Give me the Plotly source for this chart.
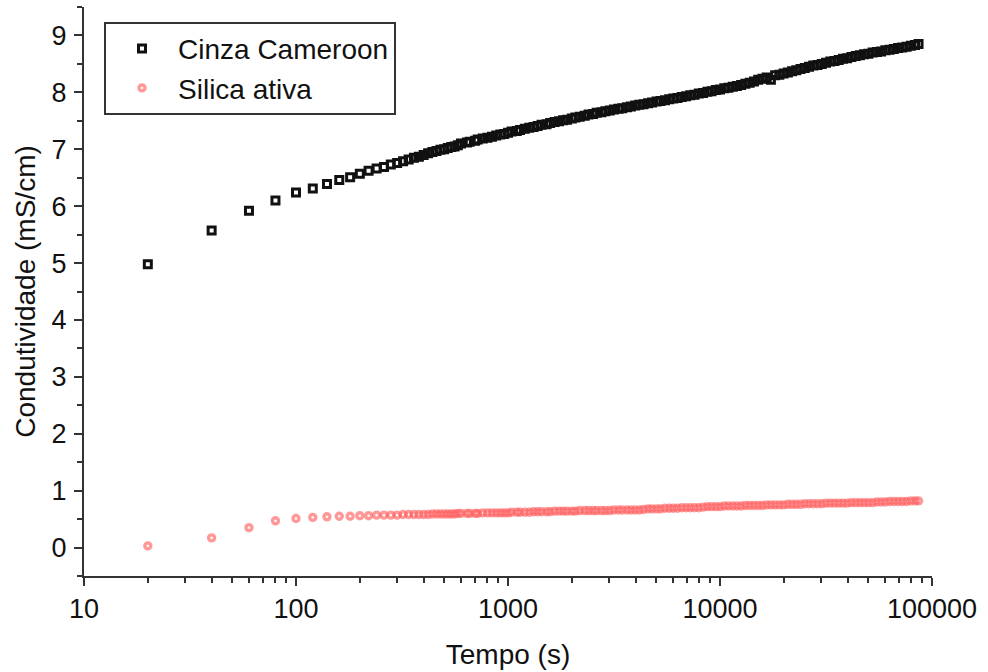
import plotly.graph_objects as go

# Time (s)
tempo = [20, 40, 60, 80, 100, 120, 140, 160, 180, 200, 220, 240, 260, 280, 300,
         320, 340, 360, 380, 400, 420, 440, 460, 480, 500, 520, 540, 560, 580,
         600, 640, 660, 700, 720, 760, 800, 840, 880, 920, 960, 1000,
         1040, 1100, 1140, 1200, 1260, 1320, 1380, 1440, 1520, 1580,
         1660, 1740, 1820, 1900, 2000, 2080, 2180, 2300, 2400, 2520, 2620, 2760, 2880,
         3020, 3160, 3320, 3460, 3640, 3800, 3980, 4160, 4360, 4580, 4780, 5020, 5240, 5500, 5760, 6020,
         6300, 6600, 6920, 7240, 7580, 7940, 8320, 8720, 9120, 9560, 10000, 10480, 10960, 11480, 12020, 12580,
         13180, 13800, 14460, 15140, 15860, 16600, 17380, 18200, 19060, 19960, 20900, 21880, 22900,
         23980, 25120, 26300, 27540, 28840, 30200, 31620, 33120, 34680, 36300, 38020, 39800, 41680, 43660,
         45700, 47860, 50120, 52480, 54960, 57540, 60260, 63100, 66060, 69180, 72440, 75860, 79440, 83180,
         86400]

# Condutividade (mS/cm) - Cinza Cameroon
cinza = [4.98, 5.57, 5.92, 6.10, 6.24, 6.31, 6.39, 6.46, 6.51, 6.57, 6.62, 6.66, 6.69, 6.73, 6.76,
         6.79, 6.82, 6.85, 6.87, 6.90, 6.93, 6.95, 6.97, 6.99, 7.00, 7.02, 7.04, 7.05, 7.07,
         7.10, 7.12, 7.13, 7.15, 7.17, 7.19, 7.20, 7.22, 7.24, 7.26, 7.27, 7.29,
         7.31, 7.32, 7.34, 7.36, 7.38, 7.39, 7.41, 7.43, 7.44, 7.46,
         7.48, 7.49, 7.51, 7.52, 7.54, 7.56, 7.57, 7.59, 7.61, 7.62, 7.64, 7.65, 7.67,
         7.68, 7.70, 7.71, 7.72, 7.74, 7.75, 7.77, 7.78, 7.79, 7.81, 7.82, 7.84, 7.85, 7.86, 7.88, 7.89,
         7.90, 7.92, 7.93, 7.95, 7.96, 7.98, 7.99, 8.01, 8.02, 8.04, 8.05, 8.07, 8.08, 8.10, 8.11, 8.13,
         8.15, 8.17, 8.19, 8.22, 8.24, 8.26, 8.22, 8.30, 8.31, 8.33, 8.35, 8.37, 8.39,
         8.41, 8.43, 8.45, 8.47, 8.48, 8.50, 8.52, 8.54, 8.55, 8.57, 8.59, 8.60, 8.62, 8.64,
         8.65, 8.67, 8.68, 8.70, 8.71, 8.72, 8.74, 8.75, 8.76, 8.78, 8.79, 8.80, 8.82, 8.83,
         8.85]

# Condutividade (mS/cm) - Silica ativa
silica = [0.03, 0.17, 0.35, 0.47, 0.51, 0.53, 0.54, 0.55, 0.55, 0.56, 0.56, 0.57, 0.57, 0.57, 0.57,
          0.58, 0.58, 0.58, 0.58, 0.58, 0.58, 0.59, 0.59, 0.59, 0.59, 0.59, 0.59, 0.59, 0.60,
          0.60, 0.60, 0.60, 0.60, 0.60, 0.61, 0.61, 0.61, 0.61, 0.61, 0.61, 0.61,
          0.62, 0.62, 0.62, 0.62, 0.62, 0.63, 0.63, 0.63, 0.63, 0.63,
          0.64, 0.64, 0.64, 0.64, 0.64, 0.64, 0.65, 0.65, 0.65, 0.65, 0.65, 0.65, 0.65,
          0.65, 0.66, 0.66, 0.66, 0.66, 0.66, 0.66, 0.66, 0.67, 0.68, 0.68, 0.68, 0.68, 0.69, 0.69, 0.69,
          0.69, 0.70, 0.70, 0.70, 0.70, 0.70, 0.71, 0.72, 0.72, 0.72, 0.72, 0.73, 0.73, 0.73, 0.73, 0.73,
          0.74, 0.74, 0.74, 0.74, 0.74, 0.75, 0.75, 0.75, 0.75, 0.75, 0.76, 0.76, 0.76,
          0.76, 0.77, 0.77, 0.77, 0.77, 0.77, 0.78, 0.78, 0.78, 0.78, 0.78, 0.78, 0.79, 0.79,
          0.79, 0.79, 0.79, 0.79, 0.80, 0.80, 0.80, 0.81, 0.81, 0.81, 0.81, 0.81, 0.82, 0.82,
          0.82]

x_ticks = [10, 100, 1000, 10000, 100000]
y_ticks = [0, 1, 2, 3, 4, 5, 6, 7, 8, 9]

FONT = "Liberation Sans, Arial, sans-serif"

fig = go.Figure()
fig.add_trace(go.Scatter(
    x=tempo, y=cinza, mode="markers", name="Cinza Cameroon",
    marker=dict(symbol="square-open", size=7, color="#111111", line=dict(width=3, color="#111111")),
))
fig.add_trace(go.Scatter(
    x=tempo, y=silica, mode="markers", name="Silica ativa",
    marker=dict(symbol="circle-open", size=6, color="rgba(255,85,85,0.6)",
                line=dict(width=3.4, color="rgba(255,85,85,0.6)")),
))

axis_common = dict(
    showline=True, linewidth=2, linecolor="#333333",
    ticks="outside", tickwidth=2, tickcolor="#333333",
    showgrid=False, zeroline=False, mirror=False,
    tickfont=dict(family=FONT, size=27, color="#111111"),
)

fig.update_xaxes(
    type="log", range=[1, 5],
    tickvals=x_ticks, ticktext=[str(v) for v in x_ticks], ticklen=8,
    minor=dict(ticks="outside", ticklen=5, tickwidth=1.5, tickcolor="#333333",
               showgrid=False, dtick="D1"),
    title=dict(text="Tempo (s)", font=dict(family=FONT, size=28, color="#111111"), standoff=21),
    ticklabelstandoff=0,
    **axis_common,
)
fig.update_yaxes(
    range=[-0.5, 9.5], tickvals=y_ticks, ticklen=8,
    minor=dict(ticks="outside", ticklen=5, tickwidth=1.5, tickcolor="#333333",
               showgrid=False, dtick=0.5, tick0=0),
    title=dict(text="Condutividade (mS/cm)", font=dict(family=FONT, size=28, color="#111111"), standoff=8),
    ticklabelstandoff=2,
    **axis_common,
)

fig.update_layout(
    width=988, height=672,
    margin=dict(l=84, r=56, t=7, b=96),
    paper_bgcolor="white", plot_bgcolor="white",
    showlegend=True,
    legend=dict(
        x=0.0236, y=0.974, xanchor="left", yanchor="top",
        bgcolor="white", bordercolor="#333333", borderwidth=2,
        font=dict(family=FONT, size=28, color="#111111"),
        itemwidth=62, tracegroupgap=0,
    ),
)

fig.write_html("out.html")
